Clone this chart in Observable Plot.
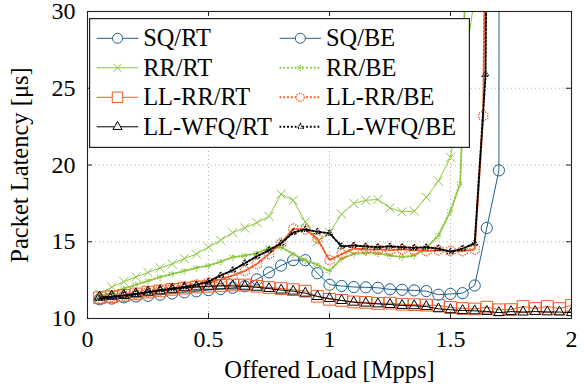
<!DOCTYPE html>
<html><head><meta charset="utf-8">
<script src="https://cdn.jsdelivr.net/npm/d3@7"></script>
<script src="https://cdn.jsdelivr.net/npm/@observablehq/plot@0.6"></script>
<style>
body{margin:0;background:#fff;}
#wrap{position:relative;width:584px;height:387px;font-family:'Liberation Serif';}
#legend{position:absolute;left:89px;top:18px;}
</style></head><body><div id="wrap"></div>
<script>
// ---- data ----
const xTicks = [0, 0.5, 1, 1.5, 2];
const yTicks = [10, 15, 20, 25, 30];
const xLabel = "Offered Load [Mpps]";
const yLabel = "Packet Latency [μs]";
const loadRT = [0.05,0.10,0.15,0.20,0.25,0.30,0.35,0.40,0.45,0.50,0.55,0.60,0.65,0.70,0.75,0.80,0.85,0.90,0.95,1.00,
                1.05,1.10,1.15,1.20,1.25,1.30,1.35,1.40,1.45,1.50,1.55,1.60,1.65,1.70,1.75,1.80,1.85,1.90,1.95,2.00];
const sqRT = [11.25,11.3,11.38,11.43,11.48,11.55,11.63,11.7,11.77,11.85,11.92,12.0,12.1,12.55,13.0,13.45,13.8,13.8,12.95,12.2,
              12.12,12.05,12.03,12.0,11.9,11.87,11.83,11.78,11.55,11.6,11.65,12.15,15.9,19.65,900];
const rrRT = [11.6,12.05,12.4,12.7,13.0,13.3,13.55,13.9,14.2,14.65,15.1,15.6,15.9,16.25,16.65,18.1,17.7,16.3,15.0,15.6,
              16.8,17.5,17.7,17.75,17.2,16.95,17.0,17.9,18.95,20.5,25.5,31,60];
const llrrRT = [11.35,11.42,11.5,11.6,11.72,11.8,11.9,11.98,12.05,12.1,12.15,12.18,12.18,12.1,12.02,11.95,11.88,11.78,11.45,11.25,
                11.18,11.08,11.05,10.98,11.0,10.93,10.9,10.87,10.85,10.72,10.65,10.62,10.74,10.57,10.58,10.78,10.65,10.78,10.65,10.85];
const llwfqRT = [11.4,11.45,11.5,11.6,11.72,11.8,11.9,12.0,12.05,12.1,12.12,12.12,12.1,12.03,11.95,11.85,11.78,11.65,11.43,11.3,
                 11.17,11.06,11.0,10.95,10.91,10.85,10.83,10.78,10.63,10.57,10.52,10.5,10.46,10.38,10.45,10.42,10.45,10.43,10.42,10.38];
const sqBE = [];
const loadRrBE = [0.05,0.10,0.15,0.20,0.25,0.30,0.35,0.40,0.45,0.50,0.55,0.60,0.65,0.70,0.75,0.80,0.85,0.90,0.95,1.00,
                  1.05,1.10,1.15,1.20,1.25,1.30,1.35,1.40,1.45,1.50,1.54,1.55,1.575];
const rrBE = [11.4,11.7,11.95,12.2,12.45,12.7,12.9,13.1,13.3,13.45,13.7,14.0,14.1,14.25,14.6,14.65,14.2,13.8,13.5,13.1,
              13.9,14.2,14.3,14.25,14.1,14.0,14.1,14.6,15.4,17.0,18.8,23,45];
const loadLlrrBE = [0.05,0.10,0.15,0.20,0.25,0.30,0.35,0.40,0.45,0.50,0.55,0.60,0.65,0.70,0.75,0.80,0.85,0.90,0.95,1.00,
                    1.05,1.10,1.15,1.20,1.25,1.30,1.35,1.40,1.45,1.50,1.55,1.60,1.635,1.66];
const llrrBE = [11.3,11.4,11.5,11.6,11.72,11.85,11.95,12.05,12.2,12.35,12.55,12.8,13.1,13.55,14.2,14.9,15.85,15.8,15.2,13.8,
                14.2,14.55,14.5,14.5,14.45,14.5,14.45,14.4,14.45,14.4,14.4,14.5,23.2,60];
const loadLlwfqBE = [0.05,0.10,0.15,0.20,0.25,0.30,0.35,0.40,0.45,0.50,0.55,0.60,0.65,0.70,0.75,0.80,0.85,0.90,0.95,1.00,
                     1.05,1.10,1.15,1.20,1.25,1.30,1.35,1.40,1.45,1.50,1.55,1.60,1.645,1.66];
const llwfqBE = [11.3,11.4,11.5,11.6,11.72,11.85,11.95,12.05,12.2,12.4,12.8,13.15,13.6,14.05,14.45,14.9,15.6,15.8,15.65,15.55,
                 14.7,14.75,14.7,14.65,14.7,14.65,14.6,14.65,14.55,14.35,14.55,14.9,25.9,60];

const FONT = "'Liberation Serif'";
const BLUE = "#1f5f8b", GREEN = "#8dc63f", ORANGE = "#f15a24", BLACK = "#000";
const DOT = "1.8,2";
// draw order as in the source (row-wise legend)
const series = [
  {name:"SQ/RT", load:loadRT, lat:sqRT, color:BLUE, symbol:"circle", r:5.6, dash:null},
  {name:"SQ/BE", load:loadRT, lat:sqBE, color:BLUE, symbol:"circle", r:5.6, dash:null},
  {name:"RR/RT", load:loadRT, lat:rrRT, color:GREEN, symbol:"times", r:4.2, dash:null},
  {name:"RR/BE", load:loadRrBE, lat:rrBE, color:GREEN, symbol:"asterisk", r:3.4, dash:DOT},
  {name:"LL-RR/RT", load:loadRT, lat:llrrRT, color:ORANGE, symbol:"square", r:6.6, dash:null},
  {name:"LL-RR/BE", load:loadLlrrBE, lat:llrrBE, color:ORANGE, symbol:"hexagon", r:4.5, dash:DOT},
  {name:"LL-WFQ/RT", load:loadRT, lat:llwfqRT, color:BLACK, symbol:"triangle", r:3.8, dash:null},
  {name:"LL-WFQ/BE", load:loadLlwfqBE, lat:llwfqBE, color:BLACK, symbol:"triangle2", r:3.0, dash:DOT}
];

const seriesMarks = series.flatMap(s => {
  const data = s.lat.map((v, i) => ({load: s.load[i], lat: v}));
  return [
    Plot.line(data, {x:"load", y:"lat", stroke:s.color, strokeWidth: s.dash ? 2 : 1, strokeDasharray: s.dash, clip:true}),
    Plot.dot(data, {x:"load", y:"lat", symbol: s.symbol, r: s.r, stroke:s.color, fill:"none",
      strokeWidth: s.dash ? 1.4 : 1, strokeDasharray: s.dash ? "1.2,1.2" : null, clip:true})
  ];
});

const xMin = xTicks[0], xMax = xTicks[xTicks.length-1];
const yMin = yTicks[0], yMax = yTicks[yTicks.length-1];

const chart = Plot.plot({
  width: 584, height: 387,
  marginLeft: 87, marginRight: 13, marginTop: 11, marginBottom: 69,
  style: {fontFamily: FONT, fontSize: "24px", background: "#fff", color: "#000"},
  x: {domain: [xMin, xMax]},
  y: {domain: [yMin, yMax]},
  marks: [
    Plot.gridX(xTicks.slice(1, -1), {stroke:"#b0b0b0", strokeOpacity:1, strokeDasharray:"1,3"}),
    Plot.gridY(yTicks.slice(1, -1), {stroke:"#b0b0b0", strokeOpacity:1, strokeDasharray:"1,3"}),
    ...seriesMarks,
    Plot.ruleX(xTicks, {x: d => d, y1: yMin, y2: yMin, insetBottom: 5, stroke:"#222"}),
    Plot.ruleX(xTicks, {x: d => d, y1: yMax, y2: yMax, insetTop: 5, stroke:"#222"}),
    Plot.ruleY(yTicks, {y: d => d, x1: xMin, x2: xMin, insetLeft: 5, stroke:"#222"}),
    Plot.ruleY(yTicks, {y: d => d, x1: xMax, x2: xMax, insetRight: 5, stroke:"#222"}),
    Plot.frame({stroke:"#222", strokeWidth:1.1}),
    Plot.axisX(xTicks, {anchor:"bottom", tickSize:0, tickPadding:11, tickFormat: d => String(d), label:null, fontSize: 24}),
    Plot.axisY(yTicks, {anchor:"left", tickSize:0, tickPadding:12, tickFormat: d => String(d), label:null, fontSize: 24}),
    Plot.text([xLabel], {text: d => d, frameAnchor:"bottom", lineAnchor:"bottom", textAnchor:"middle", dy:59, fontSize: 24.5, fill:"#000"}),
    Plot.text([yLabel], {text: d => d, frameAnchor:"left", lineAnchor:"top", textAnchor:"middle", rotate:-90, dx:-77, fontSize: 24.5, fill:"#000"})
  ]
});
const wrap = document.getElementById("wrap");
wrap.appendChild(chart);
chart.querySelectorAll("text").forEach(t => { t.style.fontFamily = FONT; });

// ---- legend (inside plot, top-left) ----
const legendOrder = ["SQ/RT","SQ/BE","RR/RT","RR/BE","LL-RR/RT","LL-RR/BE","LL-WFQ/RT","LL-WFQ/BE"];
const symMap = {circle:d3.symbolCircle, times:d3.symbolTimes, asterisk:d3.symbolAsterisk, square:d3.symbolSquare,
  hexagon: d3.symbolCircle, triangle:d3.symbolTriangle, triangle2:d3.symbolTriangle2};
const lw = 381, lh = 130;
const lg = d3.select(wrap).append("svg").attr("id","legend").attr("width", lw).attr("height", lh);
lg.append("rect").attr("x",0.6).attr("y",0.6).attr("width",lw-1.2).attr("height",lh-1.2)
  .attr("fill","#fff").attr("stroke","#222").attr("stroke-width",1.2);
legendOrder.forEach((name, k) => {
  const s = series.find(d => d.name === name);
  const col = k % 2, row = Math.floor(k / 2);
  const x0 = col ? 190.5 : 7.7, cy = 20.3 + row * 29.5;
  const g = lg.append("g");
  g.append("line").attr("x1", x0).attr("x2", x0 + 41.6).attr("y1", cy).attr("y2", cy)
    .attr("stroke", s.color).attr("stroke-width", s.dash ? 2 : 1).attr("stroke-dasharray", s.dash);
  g.append("path").attr("d", d3.symbol(symMap[s.symbol], Math.PI * s.r * s.r * 0.8)())
    .attr("transform", `translate(${x0 + 20.8},${cy})`)
    .attr("fill", "#fff").attr("stroke", s.color).attr("stroke-width", s.dash ? 1.4 : 1)
    .attr("stroke-dasharray", s.dash ? "1.2,1.2" : null);
  g.append("text").attr("x", x0 + 46.5).attr("y", cy + 7.8)
    .style("font-family", FONT).style("font-size", "24.4px").attr("fill", "#000").text(name);
});
</script></body></html>
